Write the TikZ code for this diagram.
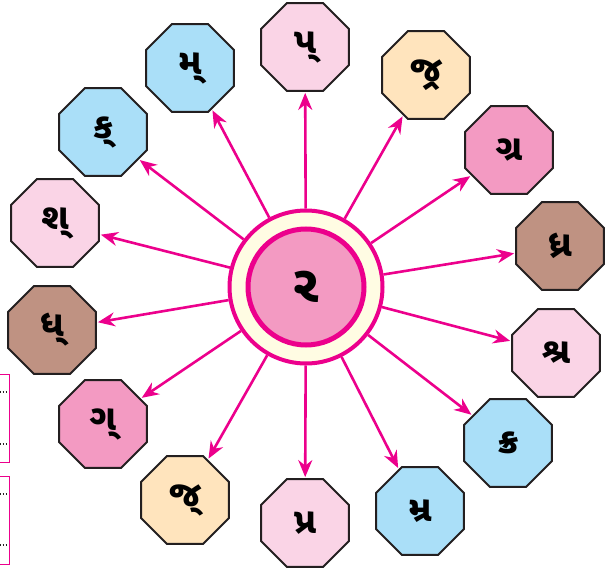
\documentclass[tikz,border=0pt]{standalone}
\usepackage{fontspec}
\newfontfamily\gujfont[Script=Gujarati]{Noto Sans Gujarati UI}
\usetikzlibrary{arrows.meta,shapes.geometric}
\definecolor{gjink}     {HTML}{231F20}
\definecolor{gjmagenta} {HTML}{EC008C}
\definecolor{gjcream}   {HTML}{FFFCE3}
\definecolor{gjrose}    {HTML}{F39AC2}
\definecolor{gjblush}   {HTML}{FAD4E6}
\definecolor{gjsky}     {HTML}{AADFF8}
\definecolor{gjbark}    {HTML}{BF9282}
\definecolor{gjpeach}   {HTML}{FFE4BD}
\tikzset{
  gjoct/.style={regular polygon, regular polygon sides=8, minimum size=95pt,
                inner sep=0pt, draw=gjink, line width=2pt,
                font=\gujfont\bfseries\fontsize{36}{36}\selectfont},
  gjsky/.style={gjoct, fill=gjsky},
  gjblush/.style={gjoct, fill=gjblush},
  gjrose/.style={gjoct, fill=gjrose},
  gjbark/.style={gjoct, fill=gjbark},
  gjpeach/.style={gjoct, fill=gjpeach},
  gjring/.style={circle, draw=gjmagenta, line width=4pt, fill=gjcream,
                 minimum size=153pt, inner sep=0pt},
  gjcore/.style={circle, draw=gjmagenta, line width=5pt, fill=gjrose,
                 minimum size=116pt, inner sep=0pt,
                 font=\gujfont\bfseries\fontsize{52}{52}\selectfont},
  gjarrow/.style={-{Stealth[length=17pt,width=14pt]}, draw=gjmagenta,
                  line width=2.6pt, shorten >=1pt},
  gjslot/.style={draw=gjmagenta, line width=0.9pt, minimum width=30pt,
                 minimum height=88pt, inner sep=0pt},
  gjdots/.style={draw=gjink, line width=1.4pt, dash pattern=on 1.4pt off 1.6pt},
}

\begin{document}
\begin{tikzpicture}[x=1pt,y=-1pt]
  \useasboundingbox (0,0) rectangle (611,575);
  \node[gjring] (ring) at (306,287) {};
  \node[gjcore] (core) at (306,287) {ર};

  % half letters on the left, joined letters on the right
  \node[gjblush] (pa)  at (305,47)  {પ્};
  \node[gjpeach] (jra) at (426,75)  {જ્ર};
  \node[gjrose]  (gra) at (509,150) {ગ્ર};
  \node[gjbark]  (dra) at (560,246) {ધ્ર};
  \node[gjblush] (sra) at (556,353) {શ્ર};
  \node[gjsky]   (kra) at (508,443) {ક્ર};
  \node[gjsky]   (mra) at (420,511) {મ્ર};
  \node[gjblush] (pra) at (305,523) {પ્ર};
  \node[gjpeach] (ja)  at (185,500) {જ્};
  \node[gjrose]  (ga)  at (103,424) {ગ્};
  \node[gjbark]  (dha) at (52,330)  {ધ્};
  \node[gjblush] (sha) at (55,223)  {શ્};
  \node[gjsky]   (ka)  at (103,132) {ક્};
  \node[gjsky]   (ma)  at (190,68)  {મ્};

  \draw[gjarrow] (ring) -- (pa);
  \draw[gjarrow] (ring) -- (jra);
  \draw[gjarrow] (ring) -- (gra);
  \draw[gjarrow] (ring) -- (dra);
  \draw[gjarrow] (ring) -- (sra);
  \draw[gjarrow] (ring) -- (kra);
  \draw[gjarrow] (ring) -- (mra);
  \draw[gjarrow] (ring) -- (pra);
  \draw[gjarrow] (ring) -- (ja);
  \draw[gjarrow] (ring) -- (ga);
  \draw[gjarrow] (ring) -- (dha);
  \draw[gjarrow] (ring) -- (sha);
  \draw[gjarrow] (ring) -- (ka);
  \draw[gjarrow] (ring) -- (ma);

  % answer boxes cut by the page edge
  \node[gjslot] (slota) at (-6,418) {};
  \node[gjslot] (slotb) at (-6,520) {};
  \draw[gjdots] (slota.west |- 0,392) -- (7,392);
  \draw[gjdots] (slota.west |- 0,444) -- (7,444);
  \draw[gjdots] (slotb.west |- 0,494) -- (7,494);
  \draw[gjdots] (slotb.west |- 0,545) -- (7,545);
\end{tikzpicture}
\end{document}
